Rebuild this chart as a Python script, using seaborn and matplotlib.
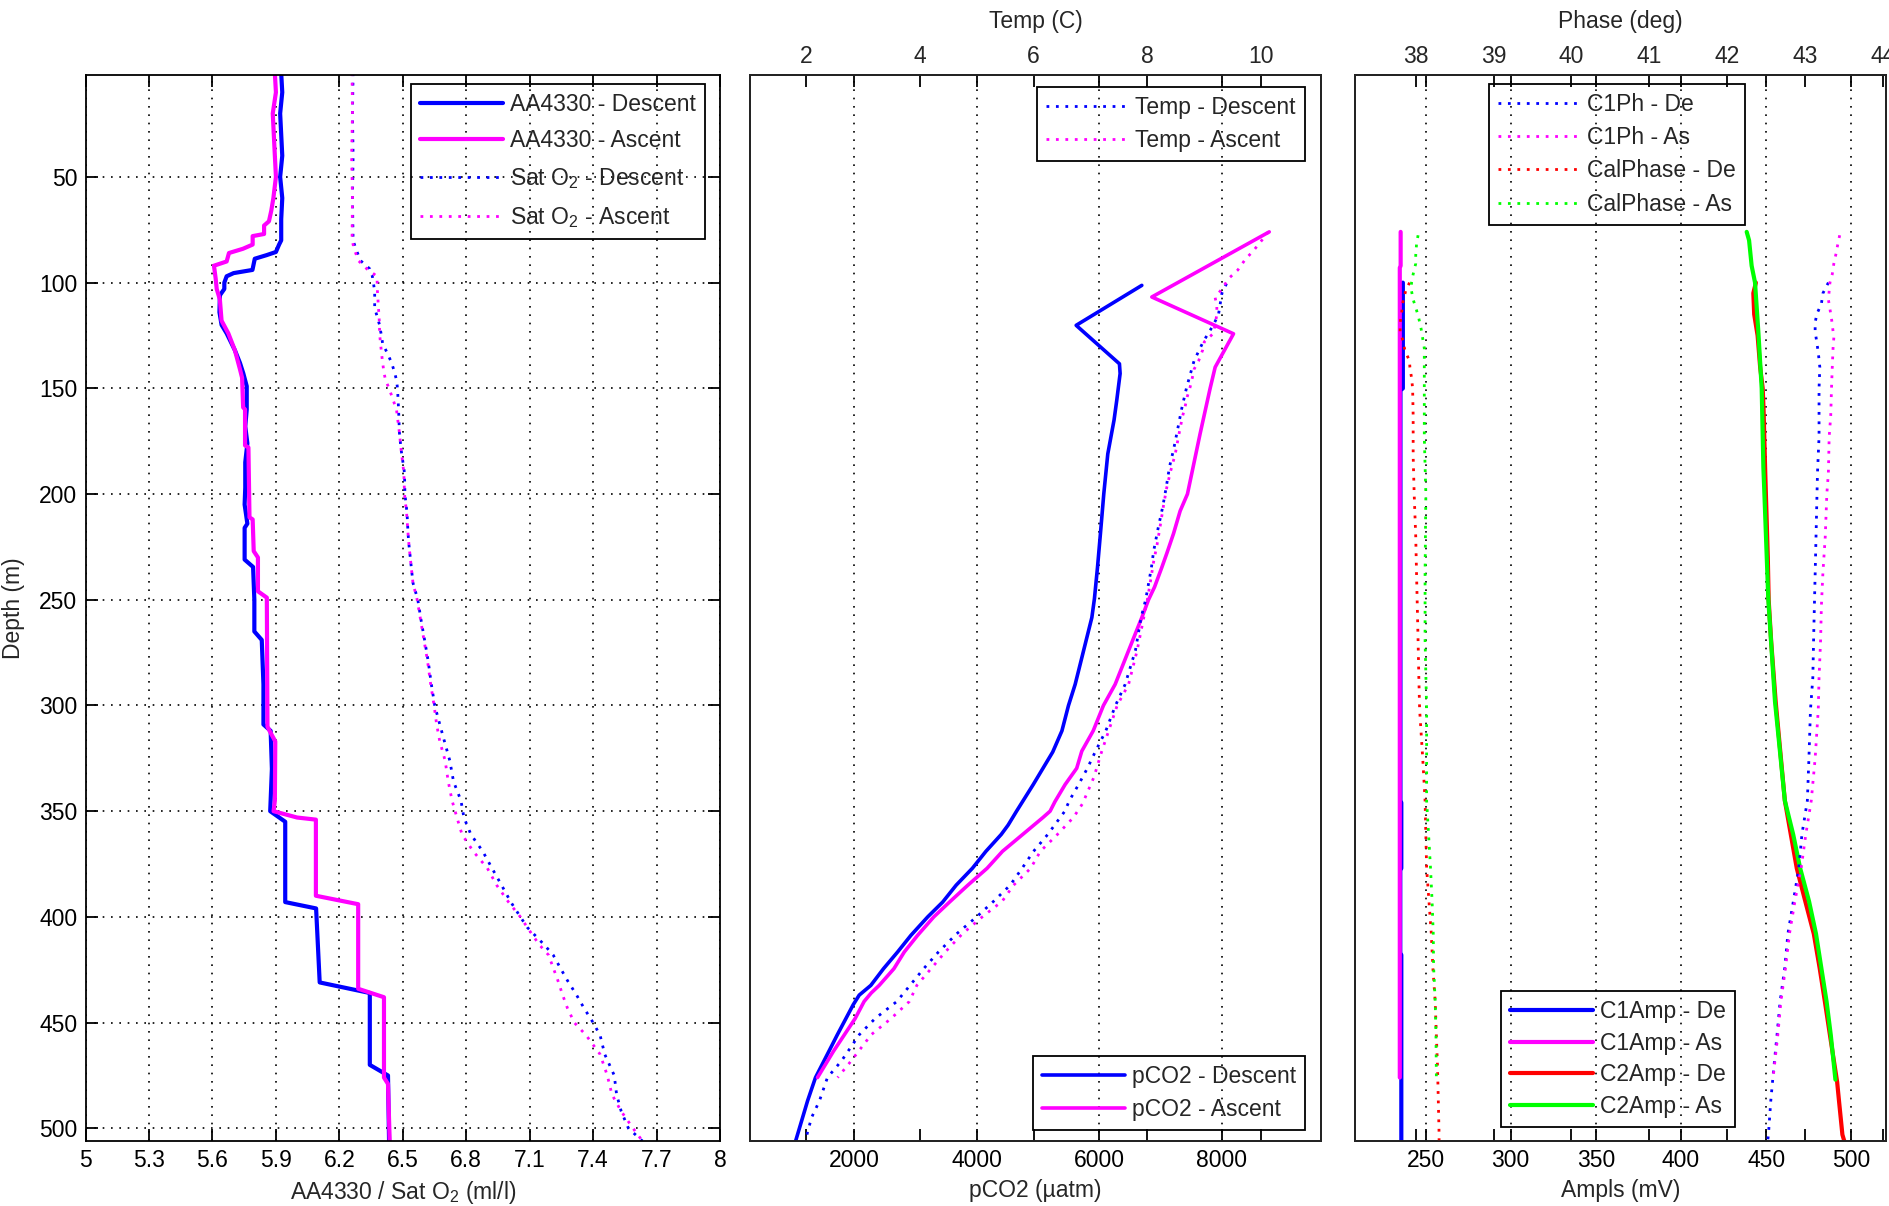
import matplotlib
matplotlib.use("Agg")
import matplotlib.pyplot as plt
import numpy as np
import seaborn as sns

# ---------------- panel 1 : oxygen ----------------
aa_desc_depth = [1, 10, 20, 30, 40, 50, 60, 70, 80, 82, 85.5, 87, 88.7, 94, 95.5, 97, 100, 103, 106, 114,
                 120, 124, 132, 138, 143, 149, 160, 168, 176, 185, 197, 205, 214, 216, 231, 234.5, 250,
                 265, 269, 290, 309, 312, 330, 345, 350, 355, 393, 396, 431, 436, 470, 475, 506]
aa_desc = [5.925, 5.93, 5.92, 5.925, 5.93, 5.92, 5.93, 5.925, 5.925, 5.915, 5.90, 5.856, 5.80, 5.789, 5.70,
           5.667, 5.656, 5.656, 5.635, 5.633, 5.643, 5.667, 5.706, 5.73, 5.746, 5.762, 5.762, 5.755, 5.765,
           5.755, 5.755, 5.752, 5.765, 5.752, 5.752, 5.792, 5.798, 5.798, 5.833, 5.841, 5.841, 5.875, 5.881,
           5.875, 5.873, 5.944, 5.944, 6.09, 6.107, 6.344, 6.344, 6.43, 6.435]

aa_asc_depth = [1, 10, 20, 30, 40, 50, 60, 66, 71, 73, 77, 78, 82, 84, 86, 90, 92, 98, 103, 108, 118, 124,
                132, 141, 145, 159, 160, 177, 178, 211, 212, 227, 230, 246, 249, 310, 312, 317, 345, 350,
                353, 354, 390, 394, 434, 438, 476, 479, 506]
aa_asc = [5.895, 5.90, 5.885, 5.89, 5.895, 5.90, 5.888, 5.878, 5.867, 5.844, 5.844, 5.79, 5.79, 5.744, 5.678,
          5.667, 5.607, 5.615, 5.62, 5.635, 5.643, 5.675, 5.706, 5.73, 5.74, 5.745, 5.754, 5.754, 5.77, 5.775,
          5.79, 5.795, 5.815, 5.815, 5.857, 5.86, 5.87, 5.897, 5.895, 5.889, 6.0, 6.089, 6.089, 6.289, 6.289,
          6.411, 6.411, 6.43, 6.438]

sat_depth = [1, 20, 40, 60, 80, 84, 89.6, 93.5, 97, 104, 112, 120, 124, 129, 134, 138, 142, 146, 150, 160,
             171, 179, 190, 200, 209, 219, 225, 234.5, 242, 250, 260, 269, 279, 290, 300, 309, 317, 326, 336,
             345, 353, 361, 369, 377, 385, 393, 400, 405, 413, 418, 424, 430, 437, 443, 450, 456, 465, 475,
             484, 492, 500, 506]
sat_desc = [6.265, 6.262, 6.265, 6.262, 6.265, 6.278, 6.30, 6.344, 6.356, 6.367, 6.367, 6.39, 6.397, 6.405,
            6.43, 6.447, 6.46, 6.47, 6.475, 6.48, 6.484, 6.492, 6.508, 6.51, 6.52, 6.525, 6.53, 6.54, 6.548,
            6.571, 6.587, 6.603, 6.62, 6.635, 6.651, 6.675, 6.697, 6.722, 6.74, 6.775, 6.789, 6.822, 6.878,
            6.922, 6.967, 7.011, 7.056, 7.089, 7.167, 7.211, 7.244, 7.278, 7.322, 7.356, 7.40, 7.433, 7.455,
            7.50, 7.511, 7.533, 7.567, 7.633]
sat_asc = [6.26, 6.262, 6.258, 6.262, 6.26, 6.27, 6.29, 6.33, 6.378, 6.38, 6.385, 6.39, 6.39, 6.395, 6.40,
           6.405, 6.41, 6.418, 6.435, 6.47, 6.484, 6.492, 6.505, 6.508, 6.518, 6.525, 6.53, 6.54, 6.548, 6.568,
           6.585, 6.60, 6.617, 6.632, 6.648, 6.66, 6.675, 6.70, 6.715, 6.733, 6.756, 6.78, 6.833, 6.90, 6.944,
           7.0, 7.056, 7.089, 7.144, 7.189, 7.211, 7.233, 7.256, 7.278, 7.311, 7.367, 7.433, 7.467, 7.489,
           7.533, 7.589, 7.633]

# ---------------- panel 2 : pCO2 / temperature ----------------
pco2_desc_depth = [101.3, 120.2, 138.4, 143, 155.7, 165, 181, 199.8, 218.7, 234.7, 249.5, 258.4, 274.2, 290,
                   300, 312, 322, 337.5, 350, 356.6, 361, 369, 377, 385, 393, 400, 408.7, 416.6, 424.5,
                   432.4, 437, 441.5, 455.7, 476, 487, 506]
pco2_desc = [6693, 5622, 6328, 6339, 6284, 6240, 6138, 6073, 6018, 5970, 5920, 5878, 5742, 5606, 5497, 5390,
             5240, 4920, 4650, 4512, 4400, 4150, 3930, 3665, 3445, 3201, 2928, 2710, 2480, 2273, 2084, 1987,
             1728, 1371, 1242, 1047]

pco2_asc_depth = [76, 106.8, 124.2, 140, 150, 171.4, 200, 208, 218.7, 228, 234.7, 244, 250, 258.4, 274.2, 290,
                  300, 312, 321.6, 329.7, 337.4, 345.5, 350, 353, 361, 369, 377, 385, 393, 400, 408.7, 416.6,
                  424.5, 432.4, 436, 440, 448, 463.6, 476]
pco2_asc = [8771, 6856, 8188, 7889, 7807, 7644, 7437, 7318, 7210, 7101, 7019, 6900, 6802, 6693, 6475, 6258,
            6067, 5900, 5714, 5631, 5442, 5276, 5197, 5080, 4750, 4420, 4170, 3856, 3556, 3300, 3037, 2819,
            2650, 2410, 2279, 2164, 2019, 1663, 1404]

temp_desc_depth = [100.5, 105, 110, 115, 120, 128, 137, 149.5, 160, 171, 179, 187, 197, 206, 216, 227, 235,
                   250, 258.4, 274, 290, 300, 312, 321.6, 329.5, 337, 345, 350, 361, 369, 377, 385, 392.6,
                   400, 408, 416.6, 424.5, 432.4, 440, 448, 455.7, 468, 476, 487, 495, 505]
temp_desc = [9.39, 9.31, 9.28, 9.25, 9.16, 8.98, 8.82, 8.69, 8.60, 8.52, 8.46, 8.39, 8.33, 8.27, 8.19, 8.11,
             8.07, 7.97, 7.89, 7.79, 7.61, 7.44, 7.27, 7.09, 6.95, 6.80, 6.63, 6.55, 6.25, 6.0, 5.80, 5.59,
             5.30, 5.0, 4.65, 4.33, 4.07, 3.83, 3.60, 3.22, 2.94, 2.63, 2.38, 2.24, 2.10, 2.0]

temp_asc_depth = [76, 80, 85, 89, 94, 98, 103, 107, 111, 115, 120, 124, 128, 132, 137, 141, 145, 149.5, 154,
                  159, 163, 171, 181, 189, 197, 206, 216, 224, 232, 242, 250, 274, 290, 300, 312, 321.6, 334,
                  346.5, 353, 361, 369, 377, 385, 392.6, 400, 408, 416.6, 424.5, 432.4, 440, 448, 455.7, 468,
                  476]
temp_asc = [10.125, 10.01, 9.86, 9.72, 9.59, 9.43, 9.31, 9.19, 9.22, 9.22, 9.19, 9.16, 9.0, 8.97, 8.90, 8.82,
            8.79, 8.75, 8.70, 8.66, 8.62, 8.56, 8.49, 8.41, 8.34, 8.28, 8.22, 8.17, 8.11, 8.05, 8.0, 7.82, 7.67,
            7.47, 7.32, 7.20, 7.06, 6.86, 6.70, 6.42, 6.12, 5.95, 5.65, 5.45, 5.10, 4.75, 4.45, 4.20, 3.95,
            3.82, 3.50, 3.15, 2.80, 2.56]

# ---------------- panel 3 : optode amplitudes / phases ----------------
c1amp_desc_depth = [100, 150, 151, 345, 346, 377, 378, 417, 418, 506]
c1amp_desc = [236.7, 236.7, 235.3, 235.3, 235.8, 235.8, 235.2, 235.2, 235.8, 235.8]
c1amp_asc_depth = [76, 92, 93, 476]
c1amp_asc = [235.4, 235.4, 234.9, 234.9]

c2amp_desc_depth = [100, 105, 115, 125, 140, 150, 160, 190, 230, 250, 270, 298, 345, 377, 392.6, 408, 424,
                    440, 456, 478, 487, 503, 506]
c2amp_desc = [444, 442.5, 443, 445, 446.5, 448, 448.5, 449.5, 451, 451.5, 453, 455.6, 461, 468, 473, 478,
              481.4, 484.5, 487.5, 491.7, 492.8, 494.8, 495.9]
c2amp_asc_depth = [76, 80, 92, 100, 124, 150, 187.5, 200, 250, 298, 345, 361, 377, 392.6, 408, 424, 440, 456,
                   477]
c2amp_asc = [438.6, 440, 441.5, 443.5, 445.5, 447.4, 448.4, 449, 451.3, 455.2, 461, 465.9, 470, 475.2, 479.3,
             482.4, 485.5, 488, 490.7]

c1ph_desc_depth = [100, 105, 110, 115, 119, 123, 128, 133, 140, 150, 173, 190, 206, 222, 238, 253, 269, 287,
                   302, 325, 345, 361, 377, 392.6, 408, 424, 440, 456, 471, 487, 503, 506]
c1ph_desc = [43.30, 43.23, 43.21, 43.15, 43.13, 43.13, 43.15, 43.17, 43.19, 43.18, 43.18, 43.16, 43.15, 43.14,
             43.13, 43.12, 43.11, 43.10, 43.07, 43.05, 43.03, 42.96, 42.92, 42.85, 42.78, 42.74, 42.68, 42.64,
             42.60, 42.56, 42.53, 42.52]
c1ph_asc_depth = [77.6, 82, 86, 91, 96, 100, 108, 117, 126, 131, 140, 150, 163, 173, 190, 200, 220, 237, 253,
                  269, 287, 302, 325, 345, 361, 377, 392.6, 408, 424, 440, 456, 476]
c1ph_asc = [43.445, 43.42, 43.40, 43.37, 43.35, 43.32, 43.30, 43.34, 43.37, 43.36, 43.35, 43.34, 43.33, 43.31,
            43.30, 43.28, 43.26, 43.23, 43.21, 43.20, 43.18, 43.17, 43.13, 43.08, 43.01, 42.95, 42.87, 42.80,
            42.75, 42.69, 42.65, 42.59]

calph_desc_depth = [100, 104, 110, 114, 119, 123, 128, 132, 137, 140, 145, 150, 163, 182, 200, 220, 237, 253,
                    269, 287, 302, 325, 345, 361, 377, 392.6, 408, 424, 440, 456, 471, 487, 503, 506]
calph_desc = [37.92, 37.87, 37.83, 37.82, 37.80, 37.80, 37.84, 37.86, 37.92, 37.925, 37.946, 37.96, 37.967,
              37.967, 37.98, 38.0, 38.01, 38.02, 38.03, 38.04, 38.05, 38.09, 38.12, 38.13, 38.14, 38.17, 38.20,
              38.22, 38.25, 38.265, 38.28, 38.29, 38.30, 38.30]
calph_asc_depth = [77.6, 82, 87, 91, 96, 100, 104, 108, 113, 117, 122, 131, 148, 173, 200, 237, 269, 302, 345,
                   361, 377, 392.6, 408, 424, 440, 456, 476]
calph_asc = [38.03, 38.01, 38.0, 38.0, 37.967, 37.946, 37.946, 37.967, 38.01, 38.04, 38.07, 38.11, 38.11,
             38.11, 38.13, 38.12, 38.12, 38.14, 38.14, 38.165, 38.19, 38.21, 38.225, 38.23, 38.25, 38.26, 38.265]

depth_ticks = [50, 100, 150, 200, 250, 300, 350, 400, 450, 500]
o2_ticks = [5, 5.3, 5.6, 5.9, 6.2, 6.5, 6.8, 7.1, 7.4, 7.7, 8]
pco2_ticks = [2000, 4000, 6000, 8000]
temp_ticks = [2, 4, 6, 8, 10]
amp_ticks = [250, 300, 350, 400, 450, 500]
phase_ticks = [38, 39, 40, 41, 42, 43, 44]

# ---------------- style ----------------
sns.set_theme(style="white")
plt.rcParams["font.family"] = ["Liberation Sans", "DejaVu Sans"]
plt.rcParams["mathtext.fontset"] = "custom"
plt.rcParams["mathtext.rm"] = "Liberation Sans"
plt.rcParams["mathtext.default"] = "regular"
FS = 16.5
BLUE, MAG, RED, GRN = "#0000ff", "#ff00ff", "#ff0000", "#00ff00"
DOT = (0, (1, 2.4))
GRID = dict(color="black", linestyle=(0, (1, 4)), linewidth=1.2)

W, H = 1890, 1206
fig = plt.figure(figsize=(W / 100, H / 100), dpi=100)
bot, hgt = 1 - 1141 / H, 1066 / H
ax1 = fig.add_axes([85.6 / W, bot, (720 - 85.6) / W, hgt])
ax2 = fig.add_axes([750 / W, bot, 571 / W, hgt])
ax3 = fig.add_axes([1355 / W, bot, 531 / W, hgt])
ax2t = ax2.twiny()
ax3t = ax3.twiny()


def prof(ax, x, y, color, ls="-", lw=3.0, label=None):
    sns.lineplot(x=x, y=y, sort=False, estimator=None, ax=ax, color=color,
                 linestyle=ls, linewidth=lw, label=label, legend=False)


def style(ax, xlim, xticks, show_ylab):
    ax.set_xlim(*xlim)
    ax.set_ylim(506, 1.8)
    ax.set_xticks(xticks)
    ax.set_xticklabels([f"{t:g}" for t in xticks])
    ax.set_yticks(depth_ticks)
    if not show_ylab:
        ax.set_yticklabels([])
    ax.set_xlabel("")
    ax.set_ylabel("")
    ax.grid(True, **GRID)
    ax.tick_params(axis="both", which="both", direction="in", length=8.5, width=1.3,
                   top=True, bottom=True, left=True, right=True, labelsize=FS, pad=6,
                   color="black", labelcolor="black")
    for s in ax.spines.values():
        s.set_color("black")
        s.set_linewidth(1.3)


def style_top(axt, xlim, xticks, label):
    axt.set_xlim(*xlim)
    axt.set_xticks(xticks)
    axt.set_xticklabels([f"{t:g}" for t in xticks])
    axt.set_ylim(506, 1.8)
    axt.set_yticks([])
    axt.set_xlabel(label, fontsize=FS, labelpad=12)
    axt.set_ylabel("")
    axt.tick_params(axis="x", direction="in", length=8.5, width=1.3, top=True, bottom=True,
                    labeltop=True, labelbottom=False, labelsize=FS, pad=5, color="black")
    axt.grid(False)


def legend(ax, loc, anchor, spacing=0.45):
    leg = ax.legend(loc=loc, bbox_to_anchor=anchor, fontsize=FS, frameon=True, fancybox=False,
                    framealpha=1, edgecolor="black", borderaxespad=0, handlelength=3.6,
                    handletextpad=0.3, labelspacing=spacing, borderpad=0.4)
    leg.get_frame().set_linewidth(1.3)
    leg.get_frame().set_facecolor("none")
    return leg


# panel 1
prof(ax1, aa_desc, aa_desc_depth, BLUE, lw=3.0, label="AA4330 - Descent")
prof(ax1, aa_asc, aa_asc_depth, MAG, lw=3.0, label="AA4330 - Ascent")
prof(ax1, sat_desc, sat_depth, BLUE, ls=DOT, lw=2.0, label="Sat O$_2$ - Descent")
prof(ax1, sat_asc, sat_depth, MAG, ls=DOT, lw=2.0, label="Sat O$_2$ - Ascent")
style(ax1, (5, 8), o2_ticks, True)
ax1.set_xlabel("AA4330 / Sat O$_2$ (ml/l)", fontsize=FS, labelpad=5)
ax1.set_ylabel("Depth (m)", fontsize=FS, labelpad=10)
legend(ax1, "upper right", (0.976, 0.992), spacing=0.6)

# panel 2
prof(ax2, pco2_desc, pco2_desc_depth, BLUE, lw=2.6, label="pCO2 - Descent")
prof(ax2, pco2_asc, pco2_asc_depth, MAG, lw=2.6, label="pCO2 - Ascent")
prof(ax2t, temp_desc, temp_desc_depth, BLUE, ls=DOT, lw=2.0, label="Temp - Descent")
prof(ax2t, temp_asc, temp_asc_depth, MAG, ls=DOT, lw=2.0, label="Temp - Ascent")
style(ax2, (303, 9615), pco2_ticks, False)
ax2.set_xlabel("pCO2 (µatm)", fontsize=FS, labelpad=5)
style_top(ax2t, (1.02, 11.05), temp_ticks, "Temp (C)")
legend(ax2, "lower right", (0.972, 0.010))
legend(ax2t, "upper right", (0.972, 0.989))

# panel 3
prof(ax3, c1amp_desc, c1amp_desc_depth, BLUE, lw=3.0, label="C1Amp - De")
prof(ax3, c1amp_asc, c1amp_asc_depth, MAG, lw=3.0, label="C1Amp - As")
prof(ax3, c2amp_desc, c2amp_desc_depth, RED, lw=3.0, label="C2Amp - De")
prof(ax3, c2amp_asc, c2amp_asc_depth, GRN, lw=3.0, label="C2Amp - As")
prof(ax3t, c1ph_desc, c1ph_desc_depth, BLUE, ls=DOT, lw=2.0, label="C1Ph - De")
prof(ax3t, c1ph_asc, c1ph_asc_depth, MAG, ls=DOT, lw=2.0, label="C1Ph - As")
prof(ax3t, calph_desc, calph_desc_depth, RED, ls=DOT, lw=2.0, label="CalPhase - De")
prof(ax3t, calph_asc, calph_asc_depth, GRN, ls=DOT, lw=2.0, label="CalPhase - As")
style(ax3, (208.6, 520.4), amp_ticks, False)
ax3.set_xlabel("Ampls (mV)", fontsize=FS, labelpad=5)
style_top(ax3t, (37.22, 44.04), phase_ticks, "Phase (deg)")
legend(ax3, "lower left", (0.275, 0.013), spacing=0.38)
legend(ax3t, "upper left", (0.252, 0.992))

fig.savefig("out.png", dpi=100)
